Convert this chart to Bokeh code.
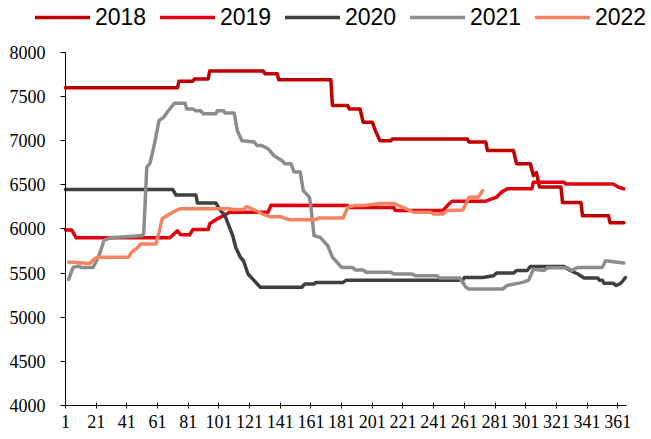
from bokeh.plotting import figure
from bokeh.models import Range1d, FixedTicker, Legend, LegendItem
from bokeh.embed import file_html
from bokeh.resources import INLINE

years = ["2018", "2019", "2020", "2021", "2022"]
colors = ["#C00000", "#E2000F", "#3F3F3F", "#8C8C8C", "#F4845F"]

d2018 = [1, 74, 75, 84, 85, 94, 95, 130, 131, 139, 140, 174, 175, 185, 186, 193, 195, 201, 203, 206,
         213, 214, 263, 264, 275, 276, 293, 295, 304, 306, 308, 310, 324, 325, 337, 338, 355, 356, 365]
v2018 = [7600, 7600, 7675, 7675, 7700, 7700, 7790, 7790, 7760, 7760, 7690, 7690, 7400, 7400, 7360, 7360,
         7210, 7210, 7115, 7000, 7000, 7020, 7020, 6985, 6985, 6890, 6890, 6740, 6740, 6605, 6640, 6475,
         6475, 6300, 6300, 6150, 6150, 6070, 6070]

d2019 = [1, 5, 8, 69, 74, 76, 82, 84, 94, 95, 100, 106, 108, 133, 135, 185, 186, 215, 216, 247, 250,
         253, 275, 282, 285, 289, 305, 306, 326, 327, 358, 362, 365]
v2019 = [5990, 5990, 5900, 5900, 5980, 5935, 5935, 5993, 5993, 6060, 6115, 6170, 6190, 6190, 6270,
         6265, 6245, 6245, 6210, 6210, 6265, 6315, 6315, 6360, 6415, 6455, 6455, 6530, 6530, 6510,
         6510, 6470, 6455]

d2020 = [1, 71, 73, 86, 87, 99, 102, 105, 110, 112, 115, 117, 120, 124, 128, 155, 157, 163, 164, 182,
         184, 260, 261, 273, 280, 282, 293, 295, 302, 304, 326, 330, 335, 339, 348, 349, 351, 352, 358,
         360, 363, 366]
v2020 = [6447, 6447, 6385, 6385, 6295, 6295, 6210, 6150, 5925, 5790, 5680, 5640, 5490, 5415, 5340,
         5340, 5378, 5378, 5395, 5395, 5420, 5420, 5450, 5450, 5470, 5500, 5500, 5530, 5530, 5575,
         5575, 5530, 5490, 5445, 5445, 5420, 5420, 5385, 5385, 5360, 5385, 5450]

d2021 = [3, 6, 10, 11, 19, 22, 24, 26, 30, 38, 51, 52, 54, 56, 59, 62, 65, 68, 72, 79, 80, 84, 86, 89,
         91, 99, 100, 104, 105, 111, 113, 116, 124, 126, 129, 133, 137, 142, 144, 148, 150, 154, 156,
         160, 161, 163, 167, 172, 175, 181, 188, 190, 195, 197, 213, 215, 227, 229, 243, 245, 258, 262,
         264, 286, 289, 299, 303, 306, 313, 315, 328, 331, 335, 351, 353, 365]
v2021 = [5430, 5565, 5580, 5565, 5565, 5665, 5755, 5870, 5900, 5910, 5925, 5950, 6700, 6740, 6965,
         7230, 7265, 7340, 7425, 7425, 7360, 7360, 7340, 7340, 7305, 7305, 7340, 7340, 7315, 7315,
         7115, 7000, 6985, 6945, 6945, 6910, 6830, 6775, 6740, 6740, 6645, 6645, 6435, 6360, 6245,
         5925, 5905, 5810, 5680, 5565, 5565, 5535, 5535, 5510, 5510, 5490, 5490, 5470, 5470, 5445,
         5445, 5340, 5320, 5320, 5360, 5395, 5420, 5545, 5530, 5560, 5560, 5530, 5565, 5565, 5640,
         5615]

d2022 = [3, 17, 19, 22, 42, 44, 48, 50, 60, 62, 64, 69, 73, 76, 108, 110, 117, 119, 125, 130, 134,
         141, 147, 164, 166, 182, 185, 189, 195, 206, 215, 221, 228, 239, 241, 247, 250, 260, 264,
         270, 273]
v2022 = [5625, 5610, 5650, 5680, 5680, 5735, 5790, 5830, 5830, 5965, 6115, 6170, 6210, 6230, 6230,
         6220, 6220, 6255, 6210, 6165, 6140, 6140, 6105, 6105, 6125, 6125, 6245, 6265, 6265, 6290,
         6290, 6245, 6190, 6190, 6170, 6170, 6210, 6215, 6360, 6360, 6435]

x_ticks = list(range(1, 362, 20))
y_ticks = list(range(4000, 8001, 500))

# frame spans the whole figure; day 1 at 65 px (1.534 px/day), 8000 at 52 px, 4000 at 405 px
p = figure(width=651, height=439, output_backend="svg", toolbar_location=None,
           x_range=Range1d(-41.37, 383.0), y_range=Range1d(3614.7, 8589.2),
           min_border_left=0, min_border_right=0, min_border_top=0, min_border_bottom=0)
p.outline_line_color = None
p.xgrid.grid_line_color = None
p.ygrid.grid_line_color = None
p.background_fill_color = "white"
p.border_fill_color = "white"

series = [(d2018, v2018), (d2019, v2019), (d2020, v2020), (d2021, v2021), (d2022, v2022)]
renderers = []
for (dx, vy), c in zip(series, colors):
    r = p.line(dx, vy, line_color=c, line_width=3.5, line_join="round", line_cap="round")
    renderers.append(r)

p.axis.axis_line_color = "black"
p.axis.axis_line_width = 1
p.axis.major_tick_line_color = "black"
p.axis.minor_tick_line_color = None
p.axis.major_label_text_font = "Liberation Serif"
p.axis.major_label_text_font_size = "18px"
p.axis.major_label_text_color = "black"

p.xaxis.ticker = FixedTicker(ticks=x_ticks)
p.xaxis.bounds = (1, 366.7)
p.xaxis.fixed_location = 4000
p.xaxis.major_tick_in = 3
p.xaxis.major_tick_out = 3
p.xaxis.major_label_standoff = 7

p.yaxis.ticker = FixedTicker(ticks=y_ticks)
p.yaxis.bounds = (4000, 8000)
p.yaxis.fixed_location = 1
p.yaxis.major_tick_in = 0
p.yaxis.major_tick_out = 5
p.yaxis.major_label_standoff = 15

items = [LegendItem(label=y, renderers=[r]) for y, r in zip(years, renderers)]
legend = Legend(items=items, orientation="horizontal", location=(35, 405),
                glyph_width=55, glyph_height=34, label_standoff=5, label_width=52,
                label_height=34, spacing=13, padding=0, margin=0,
                border_line_color=None, background_fill_alpha=0,
                label_text_font="Liberation Sans", label_text_font_size="23px",
                label_text_color="black")
p.add_layout(legend)

open("out.html", "w").write(file_html(p, INLINE))
